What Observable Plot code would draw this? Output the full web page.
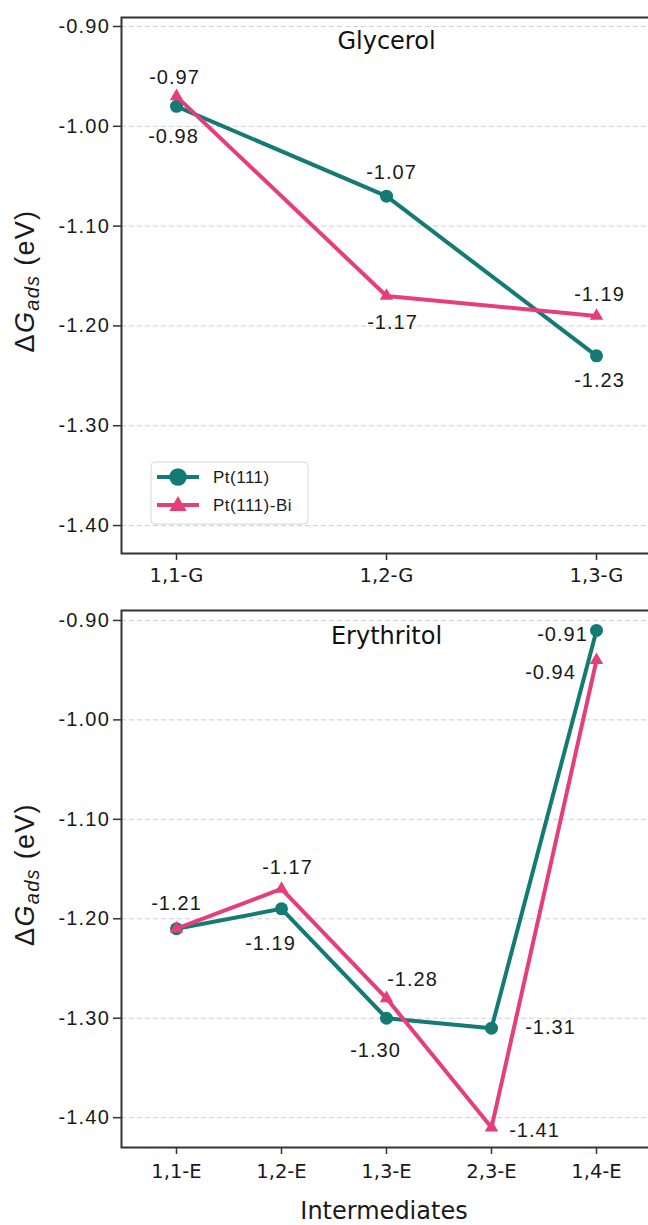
<!DOCTYPE html>
<html><head><meta charset="utf-8">
<script src="https://cdn.jsdelivr.net/npm/d3@7"></script>
<script src="https://cdn.jsdelivr.net/npm/@observablehq/plot@0.6"></script>
<style>
html,body{margin:0;padding:0;background:#fff;overflow:hidden;}
#c{width:648px;}
#c svg{display:block;max-width:none;}
</style></head><body><div id="c"></div>
<script>
// ---- data ----
const seriesNames = ["Pt(111)", "Pt(111)-Bi"];
const seriesColors = ["#137a74", "#e63e7a"];
const yTicks = [-0.90, -1.00, -1.10, -1.20, -1.30, -1.40];

const glycerolCats = ["1,1-G", "1,2-G", "1,3-G"];
const glycerolPt = [-0.98, -1.07, -1.23];
const glycerolPtBi = [-0.97, -1.17, -1.19];

const erythritolCats = ["1,1-E", "1,2-E", "1,3-E", "2,3-E", "1,4-E"];
const erythritolPt = [-1.21, -1.19, -1.30, -1.31, -0.91];
const erythritolPtBi = [-1.21, -1.17, -1.28, -1.41, -0.94];

// ---- label placement (layout only) ----
const glycerolOffPt = [[-3, 30], [5, -24], [3, 25]];
const glycerolOffBi = [[-2, -19], [6, 27], [3, -21]];
const erythritolOffPt = [null, [-11, 35], [-11, 32], [59, -1], [-34, 4]];
const erythritolOffBi = [[0, -25], [6, -21], [26, -19], [43, 3], [-46, 12]];

const numFont = "'Liberation Sans', Arial, sans-serif";
const djFont = "'DejaVu Sans', sans-serif";

function panel(o) {
  const rows = o.cats.map((c, i) => ({cat: c, pt: o.pt[i], bi: o.bi[i]}));
  const labelMarks = [];
  rows.forEach((r, i) => {
    const a = o.offPt[i], b = o.offBi[i];
    if (a) labelMarks.push(Plot.text([r], {x: "cat", y: "pt", text: d => d.pt.toFixed(2), dx: a[0], dy: a[1], fill: "#1a1a1a", fontSize: 20}));
    if (b) labelMarks.push(Plot.text([r], {x: "cat", y: "bi", text: d => d.bi.toFixed(2), dx: b[0], dy: b[1], fill: "#1a1a1a", fontSize: 20}));
  });
  const svg = Plot.plot({
    width: 648, height: o.height,
    marginLeft: 121, marginRight: -3, marginTop: o.marginTop, marginBottom: o.marginBottom,
    style: {fontFamily: numFont, fontSize: "20px", color: "#1a1a1a", background: "transparent"},
    x: {type: "point", domain: o.cats, padding: o.padding, label: null},
    y: {domain: o.yDomain, label: null},
    marks: [
      Plot.gridY(yTicks, {stroke: "#cfcfcf", strokeOpacity: 1, strokeWidth: 1, strokeDasharray: "5,3"}),
      Plot.line(rows, {x: "cat", y: "pt", stroke: seriesColors[0], strokeWidth: 4}),
      Plot.dot(rows, {x: "cat", y: "pt", fill: seriesColors[0], r: 6.5, symbol: "circle"}),
      Plot.line(rows, {x: "cat", y: "bi", stroke: seriesColors[1], strokeWidth: 4}),
      Plot.dot(rows, {x: "cat", y: "bi", fill: seriesColors[1], r: 5, symbol: "triangle"}),
      ...labelMarks,
      Plot.text([o.title], {frameAnchor: "top", lineAnchor: "middle", dy: o.titleDy, fontSize: 24, fontFamily: djFont, fill: "#111"}),
      Plot.frame({stroke: "#333", strokeWidth: 2}),
      Plot.axisY(yTicks, {tickFormat: d => d.toFixed(2), tickSize: 8, tickPadding: 3.5, strokeWidth: 1.5, stroke: "#333", label: null}),
      Plot.axisX({tickSize: 7, tickPadding: o.xPad, strokeWidth: 1.5, stroke: "#333", label: null, fontFamily: djFont})
    ]
  });
  const s = d3.select(svg);
  s.selectAll('[aria-label="y-axis tick label"]').attr("font-size", 20).attr("letter-spacing", "1.2px").attr("font-family", numFont).attr("fill", "#1a1a1a");
  s.selectAll('[aria-label="x-axis tick label"]').attr("font-size", 19.5).attr("font-family", djFont).attr("fill", "#1a1a1a");
  s.selectAll('[aria-label="text"]').filter(function(){ return this.getAttribute("font-family") !== djFont; }).attr("letter-spacing", "1px");

  // y axis label  ΔG_ads (eV)
  const yc = (o.marginTop + (o.height - o.marginBottom)) / 2 - 4;
  const t = s.append("text")
    .attr("transform", `translate(34,${yc}) rotate(-90)`)
    .attr("text-anchor", "middle")
    .attr("font-family", numFont).attr("font-size", 27).attr("letter-spacing", "1.3px").attr("fill", "#1a1a1a");
  t.append("tspan").text("Δ");
  t.append("tspan").attr("font-style", "italic").text("G");
  t.append("tspan").attr("font-style", "italic").attr("font-size", 20).attr("dy", 5).text("ads");
  t.append("tspan").attr("dy", -5).text(" (eV)");

  if (o.xLabel) {
    s.append("text").attr("x", 384).attr("y", o.height - 6)
      .attr("text-anchor", "middle").attr("font-family", djFont).attr("font-size", 24).attr("fill", "#1a1a1a")
      .text(o.xLabel);
  }
  if (o.legend) {
    const g = s.append("g");
    g.append("rect").attr("x", 151).attr("y", 462).attr("width", 157).attr("height", 62).attr("rx", 4)
      .attr("fill", "#fff").attr("fill-opacity", 0.85).attr("stroke", "#d6d6d6").attr("stroke-width", 1);
    seriesNames.forEach((name, i) => {
      const yy = 477 + i * 28;
      g.append("line").attr("x1", 157).attr("x2", 199).attr("y1", yy).attr("y2", yy)
        .attr("stroke", seriesColors[i]).attr("stroke-width", 4);
      g.append("path").attr("transform", `translate(178,${yy + (i ? 1 : 0)})`)
        .attr("d", d3.symbol(i ? d3.symbolTriangle : d3.symbolCircle, i ? 130 : 240)())
        .attr("fill", seriesColors[i]);
      g.append("text").attr("x", 213).attr("y", yy).attr("dy", "0.36em").attr("text-anchor", "start")
        .attr("font-family", numFont).attr("font-size", 17).attr("letter-spacing", "0.5px").attr("fill", "#1a1a1a")
        .text(name);
    });
  }
  return svg;
}

const root = document.getElementById("c");
root.appendChild(panel({
  cats: glycerolCats, pt: glycerolPt, bi: glycerolPtBi, offPt: glycerolOffPt, offBi: glycerolOffBi,
  title: "Glycerol", titleDy: 24, height: 595, marginTop: 17, marginBottom: 42,
  yDomain: [-1.428, -0.891], padding: 0.256, xPad: 8, legend: true
}));
root.appendChild(panel({
  cats: erythritolCats, pt: erythritolPt, bi: erythritolPtBi, offPt: erythritolOffPt, offBi: erythritolOffBi,
  title: "Erythritol", titleDy: 26, height: 630, marginTop: 15, marginBottom: 78,
  yDomain: [-1.430, -0.890], padding: 0.516, xPad: 10, xLabel: "Intermediates"
}));
</script></body></html>
